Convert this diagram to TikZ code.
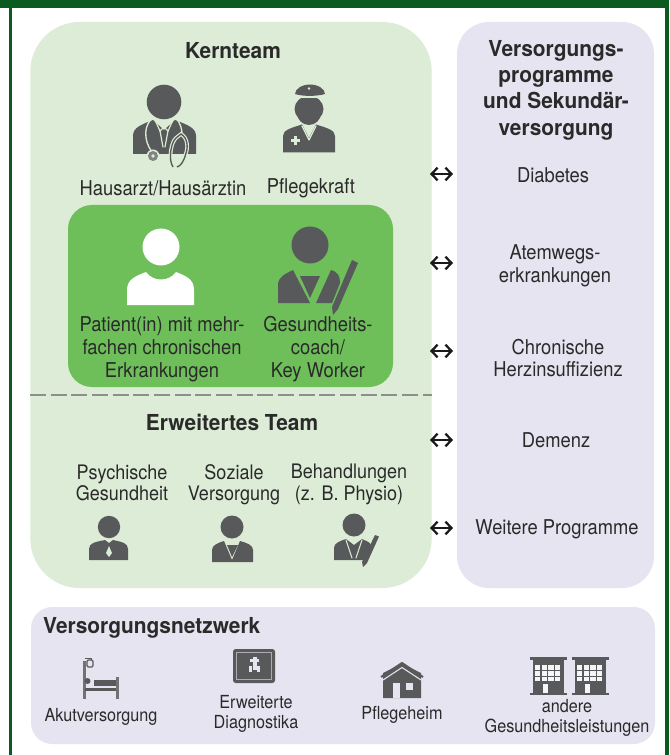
\documentclass[tikz,border=0pt]{standalone}
\usepackage{fontspec}
\setmainfont[FakeStretch=0.9,BoldFeatures={FakeStretch=0.95}]{TeX Gyre Heros}
\usetikzlibrary{arrows.meta}
\definecolor{framegreen}{HTML}{0B5A20}
\definecolor{lightgreen}{HTML}{DCECD6}
\definecolor{midgreen}{HTML}{6EBE5A}
\definecolor{lavender}{HTML}{E6E4F0}
\definecolor{icongray}{HTML}{58595B}
\definecolor{inktext}{HTML}{2A2A2A}
\definecolor{dashgray}{HTML}{8C8F8C}
\tikzset{
  x=0.75pt,y=-0.75pt,
  panel/.style={rectangle,inner sep=0pt,outer sep=0pt,anchor=center},
  label/.style={inner sep=0pt,outer sep=0pt,align=center,text=inktext,font=\fontsize{15.3pt}{17.2pt}\selectfont},
  smalllabel/.style={label,font=\fontsize{13.5pt}{14.6pt}\selectfont},
  midlabel/.style={label,font=\fontsize{15pt}{16.1pt}\selectfont},
  headline/.style={label,font=\fontsize{16.5pt}{19.7pt}\selectfont\bfseries},
  linkarrow/.style={{Straight Barb[length=4.5pt,width=9.5pt,line width=1.7pt]}-{Straight Barb[length=4.5pt,width=9.5pt,line width=1.7pt]},line width=1.5pt,color=black!90},
  icon/.style={fill=icongray,draw=none},
  cut/.style={draw=lightgreen,line width=#1,line cap=round,line join=round},
  cut/.default=1.1pt,
}
\begin{document}
\begin{tikzpicture}
\useasboundingbox (0,0) rectangle (669,755);
\fill[white] (0,0) rectangle (669,755);
% frame
\fill[framegreen] (0,0) rectangle (669,8);
\fill[framegreen] (9,0) rectangle (12,755);
\fill[framegreen] (665,0) rectangle (669,755);
% panels
\node[panel,fill=lightgreen,rounded corners=37pt,minimum width=301pt,minimum height=424.5pt] (kern) at (231,305) {};
\node[panel,fill=lavender,rounded corners=24pt,minimum width=147.75pt,minimum height=424.5pt] (prog) at (555.5,305) {};
\node[panel,fill=lavender,rounded corners=16pt,minimum width=468pt,minimum height=102.75pt] (netz) at (343,675.5) {};
\node[panel,fill=midgreen,rounded corners=18pt,minimum width=243.75pt,minimum height=136.5pt] (core) at (230.5,296) {};
% dashed divider
\coordinate (dashL) at (30,395);
\coordinate (dashR) at (432,395);
\draw[dashgray,line width=1.6pt,dash pattern=on 12pt off 3.5pt] (dashL) -- (dashR);
% texts
\node[headline] (tKern) at (233,50.5) {Kernteam};
\node[label] (tArzt) at (163,188) {Hausarzt/Hausärztin};
\node[label] (tPflege) at (311,188) {Pflegekraft};
\node[label] (tPatient) at (162,349) {Patient(in) mit mehr-\\fachen chronischen\\Erkrankungen};
\node[label] (tCoach) at (318,349) {Gesundheits-\\coach/\\Key Worker};
\node[headline] (tErw) at (232,422) {Erweitertes Team};
\node[midlabel] (tPsych) at (122,483) {Psychische\\Gesundheit};
\node[midlabel] (tSozial) at (234,484.5) {Soziale\\Versorgung};
\node[midlabel] (tBeh) at (349,484.5) {Behandlungen\\(z. B. Physio)};
\node[headline] (tProg) at (556,90) {Versorgungs-\\programme\\und Sekundär-\\versorgung};
\node[label] (tDia) at (553,175) {Diabetes};
\node[label] (tAtem) at (555,266) {Atemwegs-\\erkrankungen};
\node[label] (tHerz) at (558,358) {Chronische\\Herzinsuffizienz};
\node[label] (tDem) at (556,440) {Demenz};
\node[label] (tWeit) at (557,529) {Weitere Programme};
\node[headline,anchor=west] (tNetz) at (43,628) {Versorgungsnetzwerk};
\node[smalllabel] (tAkut) at (101,717) {Akutversorgung};
\node[smalllabel] (tDiag) at (256,714) {Erweiterte\\Diagnostika};
\node[smalllabel] (tHeim) at (402,715) {Pflegeheim};
\node[smalllabel] (tAnd) at (567,718) {andere\\Gesundheitsleistungen};
% arrows
\foreach \n/\yy in {1/174,2/263,3/351,4/440,5/528}{
  \coordinate (arrL\n) at (430,\yy);
  \coordinate (arrR\n) at (453,\yy);
  \draw[linkarrow] (arrL\n) -- (arrR\n);
}
% doctor
\fill[icon] (164,102) circle (17.3);
\fill[icon] (133,154) -- (133,136) .. controls (133,128) and (140,125) .. (153,120) -- (164,130) -- (175,120) .. controls (188,125) and (196,128) .. (196,136) -- (196,154) -- cycle;
\draw[cut=0.9pt] (155,120) -- (160,131) -- (164,127) -- (168,131) -- (173,120);
\draw[cut=0.9pt] (160,131) -- (163,147);
\draw[cut=0.9pt] (168,131) -- (165,147);
\draw[cut=1pt] (153,118) .. controls (144,124) and (143,140) .. (152,152);
\fill[lightgreen] (153,156) circle (6.5);
\fill[icongray!75] (153,156) circle (5);
\fill[lightgreen] (153,156) circle (1.8);
\draw[cut=1pt] (176,118) .. controls (181,124) and (182,130) .. (182,134);
\draw[lightgreen,line width=2.8pt] (173,167) .. controls (168,160) and (171,142) .. (176,138) -- (181,134) .. controls (188,138) and (188,148) .. (186,153) .. controls (184,161) and (181,166) .. (177,167);
\draw[icongray,line width=1pt] (173,167) .. controls (168,160) and (171,142) .. (176,138) -- (181,134) .. controls (188,138) and (188,148) .. (186,153) .. controls (184,161) and (181,166) .. (177,167);
% nurse
\fill[icon] (309,109) circle (14.5 and 13);
\fill[icon] (309,113) circle (12);
\fill[lightgreen] (293,94) rectangle (327,98);
\fill[icon] (295,94) .. controls (295,89) and (302,84.5) .. (310,84.5) .. controls (318,84.5) and (325,89) .. (325,94) .. controls (316,96.5) and (303,96.5) .. (295,94) -- cycle;
\fill[lightgreen] (309,88.5) circle (1.4);
\fill[icon] (283,152.5) -- (283,136) .. controls (283,130) and (291,128) .. (302,124.5) -- (309,138) -- (316,124.5) .. controls (327,128) and (335,130) .. (335,136) -- (335,152.5) -- cycle;
\draw[cut=0.9pt] (302,126) -- (309,140) -- (316,126);
\fill[lightgreen] (293.5,136) rectangle (296.5,145);
\fill[lightgreen] (290.5,139) rectangle (299.5,142);
% patient
\fill[white] (161,247) circle (18.5);
\fill[white] (127,305) -- (127,290) .. controls (127,279) and (136,276) .. (146,272) .. controls (153,282) and (169,282) .. (176,272) .. controls (186,276) and (194,279) .. (194,290) -- (194,305) -- cycle;
% coach
\fill[icon] (310,245) circle (18.5);
\fill[icon] (278,303) -- (278,285) .. controls (278,277) and (285,274) .. (293,270) -- (310,303) -- cycle;
\fill[icon] (300,276) -- (320,276) -- (310,298) -- cycle;
\fill[icon] (316,303) -- (331,270) .. controls (338,272) and (340,276) .. (340,283) -- (332,303) -- cycle;
\fill[icon] (352,260) -- (358,263) -- (338,309) -- (333,315) -- (332,307) -- cycle;
% small person 1
\fill[icon] (109,527) circle (11.2);
\fill[icon] (89,560) -- (89,549) .. controls (89,543) and (95,542) .. (105,540) -- (109,543) -- (113,540) .. controls (122,542) and (128,543) .. (128,549) -- (128,560) -- cycle;
\fill[lightgreen] (109,546) -- (112,553) -- (109,557) -- (106,553) -- cycle;
% small person 2
\fill[icon] (232,527) circle (11.5);
\fill[icon] (212,562) -- (212,550) .. controls (212,545) and (218,543) .. (224,541) -- (232,560) -- (240,541) .. controls (247,543) and (253,545) .. (253,550) -- (253,562) -- cycle;
\fill[icon] (227,545) -- (238,545) -- (232,557) -- cycle;
% small person 3
\fill[icon] (354,525) circle (11.5);
\fill[icon] (334,560) -- (334,548) .. controls (334,543) and (340,541) .. (346,539) -- (354,545) -- (362,539) .. controls (366,541) and (370,542) .. (371,545) -- (365,560) -- cycle;
\draw[cut=0.8pt] (346,540) -- (352,558);
\draw[cut=0.8pt] (362,540) -- (356,558);
\fill[icon] (375,535) -- (379,536.5) -- (367,563) -- (363,567) -- (362,562) -- cycle;
% bed
\fill[icongray!85] (83,661) rectangle (85.5,699);
\fill[icongray!85] (116,677) rectangle (118.5,699);
\fill[icon] (85,688) rectangle (116,690.5);
\fill[icon] (94,680) rectangle (116,686);
\fill[icon] (87.5,681) circle (3);
\draw[icongray,line width=0.7pt] (85,658) -- (91,658) -- (91,660);
\draw[icongray,line width=0.9pt,rounded corners=1pt] (87,660) rectangle (93,667);
% monitor
\fill[icon,rounded corners=2pt] (233,649) rectangle (275,683);
\draw[lavender!60!icongray,line width=0.8pt] (236.5,652.5) rectangle (271.5,679.5);
\fill[lavender] (250,659) rectangle (252.5,662);
\fill[lavender] (256.5,659) rectangle (259,662);
\fill[lavender] (252.5,657) rectangle (256.5,670);
\fill[lavender] (249,666) rectangle (252,672);
\fill[lavender] (257,666) rectangle (260,672);
% house
\fill[icon] (383,673) -- (402,663.5) -- (421,673) -- (421,698) -- (383,698) -- cycle;
\draw[icongray,line width=1.5pt,line join=miter] (381,677) -- (402,663) -- (423,677);
\draw[lavender,line width=0.8pt] (383,680) -- (402,667.5) -- (421,680);
\fill[lavender] (393,683) rectangle (400,698);
\fill[lavender] (406,683) rectangle (413,690);
% buildings
\foreach \bx in {530,572}{
  \fill[icon] (\bx,657) rectangle ({\bx+36.5},660);
  \fill[icon] ({\bx+2.5},660) rectangle ({\bx+34},693);
  \fill[icon] (\bx,693) rectangle ({\bx+36.5},695);
  \foreach \cc in {0,1,2,3}{
    \foreach \rr in {0,1,2}{
      \fill[lavender!40!white] ({\bx+5+\cc*6.7},{665+\rr*5.9}) rectangle ({\bx+10.2+\cc*6.7},{669.6+\rr*5.9});
    }
  }
  \fill[lavender!40!white] ({\bx+13},684) rectangle ({\bx+18},693);
}
\end{tikzpicture}
\end{document}
